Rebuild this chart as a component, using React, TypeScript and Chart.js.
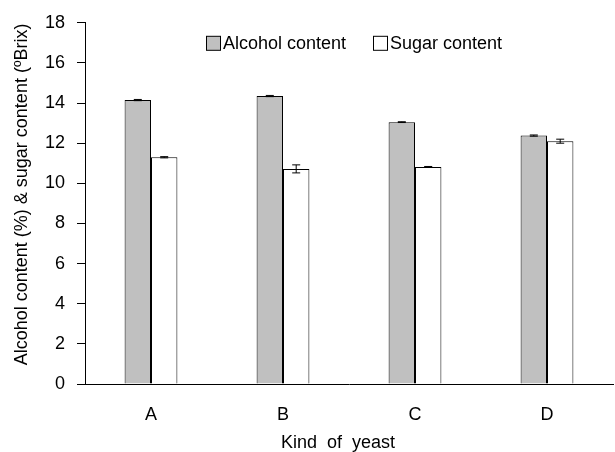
import React, { useEffect, useRef } from "react";
import { Chart, registerables } from "chart.js";

Chart.register(...registerables);

const categories = ["A", "B", "C", "D"];
const alcohol = [14.15, 14.35, 13.05, 12.38];
const alcoholErr = [0.03, 0.03, 0.02, 0.03];
const sugar = [11.3, 10.72, 10.82, 12.1];
const sugarErr = [0.03, 0.2, 0.02, 0.1];
const yTicks = [0, 2, 4, 6, 8, 10, 12, 14, 16, 18];
const xTitle = "Kind  of  yeast";
const yTitle = "Alcohol content (%) & sugar content (ºBrix)";

const FONT = "'Liberation Sans', Arial, sans-serif";

const errorBarPlugin = {
  id: "errorBars",
  afterDatasetsDraw(chart: any) {
    const ctx = chart.ctx;
    const yScale = chart.scales.y;
    chart.data.datasets.forEach((ds: any, di: number) => {
      const meta = chart.getDatasetMeta(di);
      const errs: number[] = ds.errors || [];
      meta.data.forEach((bar: any, i: number) => {
        const v = ds.data[i];
        const e = errs[i] || 0;
        const yTop = yScale.getPixelForValue(v + e);
        const yBot = yScale.getPixelForValue(v - e);
        const x = bar.x;
        ctx.save();
        ctx.strokeStyle = "#000";
        ctx.lineWidth = 1;
        ctx.beginPath();
        ctx.moveTo(x, yTop);
        ctx.lineTo(x, yBot);
        ctx.moveTo(x - 4, yTop);
        ctx.lineTo(x + 4, yTop);
        ctx.moveTo(x - 4, yBot);
        ctx.lineTo(x + 4, yBot);
        ctx.stroke();
        ctx.restore();
      });
    });
  },
};

const legendAndTitlesPlugin = {
  id: "customLegend",
  afterDraw(chart: any) {
    const ctx = chart.ctx;
    const area = chart.chartArea;
    const y = area.top + 13;
    const items = [
      { x: area.left + 121, ds: chart.data.datasets[0] },
      { x: area.left + 288, ds: chart.data.datasets[1] },
    ];
    ctx.save();
    ctx.font = `18px ${FONT}`;
    ctx.textBaseline = "middle";
    ctx.textAlign = "left";
    items.forEach((it) => {
      ctx.fillStyle = it.ds.backgroundColor;
      ctx.fillRect(it.x + 0.5, y + 0.5, 14, 14);
      ctx.strokeStyle = "#000";
      ctx.lineWidth = 1;
      ctx.strokeRect(it.x + 0.5, y + 0.5, 14, 14);
      ctx.fillStyle = "#000";
      ctx.fillText(it.ds.label, it.x + 17, y + 8);
    });
    // axis titles
    ctx.textAlign = "center";
    ctx.fillText(xTitle, (area.left + area.right) / 2 - 11, area.bottom + 59);
    ctx.translate(22, (area.top + area.bottom) / 2 - 9);
    ctx.rotate(-Math.PI / 2);
    ctx.fillText(yTitle, 0, 0);
    ctx.restore();
  },
};

export default function App() {
  const ref = useRef<HTMLCanvasElement>(null);
  useEffect(() => {
    document.body.style.margin = "0";
    const chart = new Chart(ref.current as HTMLCanvasElement, {
      type: "bar",
      data: {
        labels: categories,
        datasets: [
          {
            label: "Alcohol content",
            data: alcohol,
            errors: alcoholErr,
            backgroundColor: "#c0c0c0",
            borderColor: "#000",
            borderWidth: 1,
            categoryPercentage: 0.4,
            barPercentage: 1.0,
          } as any,
          {
            label: "Sugar content",
            data: sugar,
            errors: sugarErr,
            backgroundColor: "#ffffff",
            borderColor: "#000",
            borderWidth: 1,
            categoryPercentage: 0.4,
            barPercentage: 1.0,
          } as any,
        ],
      },
      options: {
        animation: false,
        responsive: true,
        maintainAspectRatio: false,
        layout: { padding: { top: 20, right: 2, left: 0, bottom: 0 } },
        plugins: {
          legend: { display: false },
          tooltip: { enabled: false },
        },
        scales: {
          x: {
            grid: { display: false, drawTicks: false },
            border: { display: true, color: "#000", width: 1 },
            ticks: {
              color: "#000",
              font: { family: FONT, size: 18 },
              padding: 20,
            },
            afterFit(scale: any) {
              scale.height = 68;
            },
          },
          y: {
            min: 0,
            max: 18,
            afterBuildTicks(scale: any) {
              scale.ticks = yTicks.map((v) => ({ value: v }));
            },
            grid: {
              display: true,
              drawOnChartArea: false,
              drawTicks: true,
              tickLength: 8,
              color: "#000",
            },
            border: { display: true, color: "#000", width: 1 },
            ticks: {
              color: "#000",
              font: { family: FONT, size: 18 },
              padding: 12,
            },
            afterFit(scale: any) {
              scale.width = 85;
            },
          },
        },
      },
      plugins: [errorBarPlugin, legendAndTitlesPlugin],
    });
    return () => chart.destroy();
  }, []);
  return (
    <div style={{ width: 615, height: 452, position: "relative" }}>
      <canvas ref={ref} />
    </div>
  );
}
